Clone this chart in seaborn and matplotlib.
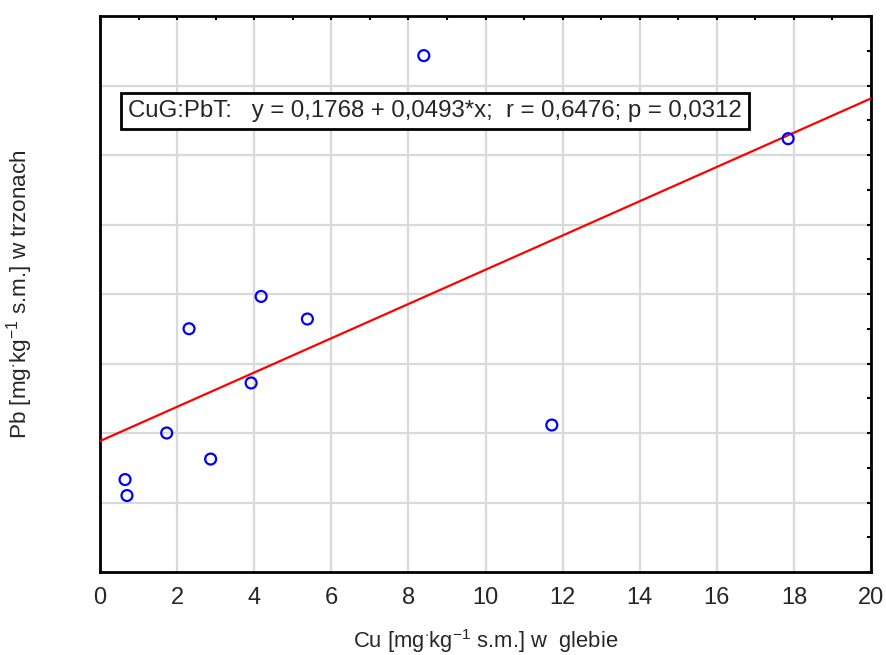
import matplotlib
matplotlib.use("Agg")
import matplotlib.pyplot as plt
from matplotlib.ticker import MultipleLocator, NullFormatter
import seaborn as sns
import numpy as np
import pandas as pd

# data
cu_soil = [8.40, 17.85, 4.18, 2.31, 5.38, 3.92, 1.73, 11.72, 2.87, 0.65, 0.70]
pb_stem = [1.286, 1.047, 0.593, 0.500, 0.528, 0.344, 0.200, 0.223, 0.125, 0.066, 0.020]
intercept = 0.1768
slope = 0.0493
x_range = [0, 20]
x_ticks = [0, 2, 4, 6, 8, 10, 12, 14, 16, 18, 20]
y_range = [-0.2, 1.4]
y_grid = [0.0, 0.2, 0.4, 0.6, 0.8, 1.0, 1.2]
eq_text = "CuG:PbT:   y = 0,1768 + 0,0493*x;  r = 0,6476; p = 0,0312"
xlabel = r"Cu [mg$^{\cdot}$kg$^{-1}$ s.m.] w  glebie"
ylabel = r"Pb [mg$^{\cdot}$kg$^{-1}$ s.m.] w trzonach"

sns.set_style("white")
plt.rcParams['font.family'] = ['Liberation Sans', 'DejaVu Sans']
plt.rcParams['mathtext.fontset'] = 'custom'
plt.rcParams['mathtext.rm'] = 'Liberation Sans'
plt.rcParams['mathtext.it'] = 'Liberation Sans:italic'
plt.rcParams['mathtext.bf'] = 'Liberation Sans:bold'

df = pd.DataFrame({"cu": cu_soil, "pb": pb_stem})
line_x = np.array(x_range, dtype=float)
line_df = pd.DataFrame({"x": line_x, "y": intercept + slope * line_x})

fig = plt.figure(figsize=(8.86, 6.55), dpi=100)
ax = fig.add_axes([100/886, (655-572)/655, 771/886, 556/655])

sns.lineplot(data=line_df, x="x", y="y", ax=ax, color="#ff0000", lw=1.6, zorder=3)
sns.scatterplot(data=df, x="cu", y="pb", ax=ax, s=62, facecolor="none",
                edgecolor="#0000ff", linewidth=1.6, zorder=4)

ax.set_xlim(*x_range)
ax.set_ylim(*y_range)
ax.set_xticks(x_ticks)
ax.xaxis.set_minor_locator(MultipleLocator(1))
ax.set_yticks(y_grid)
ax.yaxis.set_minor_locator(MultipleLocator(0.1))
ax.yaxis.set_major_formatter(NullFormatter())
ax.tick_params(axis='both', which='both', direction='in', length=3, width=1.5,
               top=True, right=True, color='black')
ax.tick_params(axis='x', which='major', labelsize=17, pad=11)
ax.grid(True, which='major', color='#d9d9d9', lw=1.6, zorder=0)
ax.set_axisbelow(True)
for s in ax.spines.values():
    s.set_color('black')
    s.set_linewidth(2)

ax.set_xlabel(xlabel, fontsize=15.8, labelpad=13)
ax.set_ylabel(ylabel, fontsize=16.2, labelpad=43)

ax.text(0.036, 0.829, eq_text, transform=ax.transAxes, ha='left', va='center',
        fontsize=17.3, zorder=5,
        bbox=dict(boxstyle='square,pad=0.3', fc='white', ec='black', lw=2))

fig.savefig("out.png", dpi=100)
